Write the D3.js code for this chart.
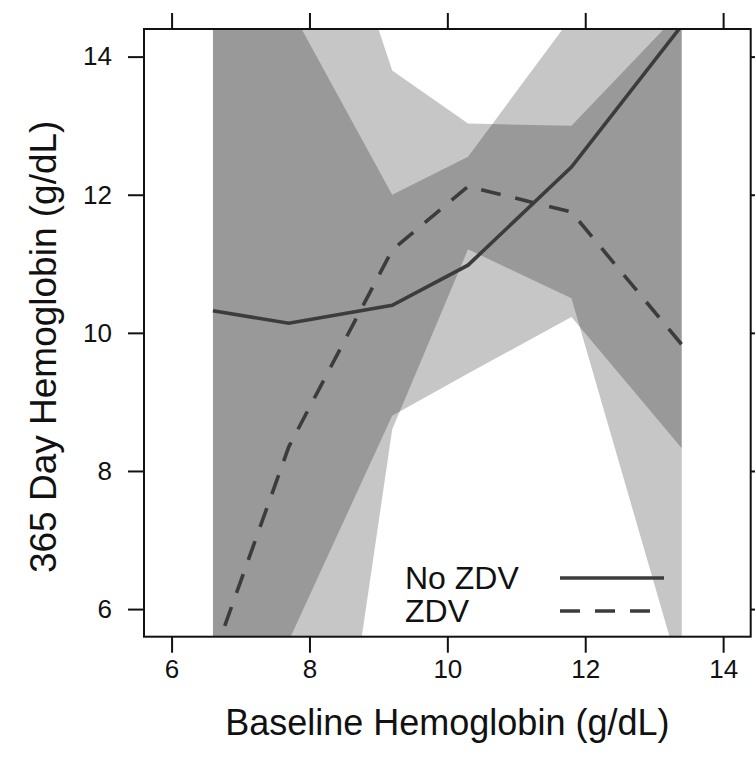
<!DOCTYPE html>
<html>
<head>
<meta charset="utf-8">
<script src="https://cdn.jsdelivr.net/npm/d3@7"></script>
<style>
  body { margin: 0; background: #fff; }
  text { font-family: "Liberation Sans", Arial, sans-serif; fill: #111; }
</style>
</head>
<body>
<div id="chart"></div>
<script>
// baseline hemoglobin groups (x) and fitted 365-day values with CI
const baseline = [6.6, 7.7, 9.2, 10.3, 11.8, 13.4];
const noZdvFit = [10.32, 10.14, 10.40, 10.98, 12.40, 14.45];
const noZdvLower = [3.3, 5.54, 8.8, 9.41, 10.23, 8.33];
const noZdvUpper = [17.3, 14.74, 12.0, 12.55, 14.57, 20.6];
const zdvFit = [5.28, 8.35, 11.2, 12.12, 11.75, 9.83];
const zdvLower = [-6.7, -1.6, 8.6, 11.21, 10.5, 4.99];
const zdvUpper = [17.3, 18.3, 13.8, 13.03, 13.0, 14.67];
const xTicks = [6, 8, 10, 12, 14];
const yTicks = [6, 8, 10, 12, 14];
const groupNames = ["No ZDV", "ZDV"];

(() => {
  const W = 755, H = 767;
  const margin = { top: 29, right: 4.3, bottom: 130.3, left: 144 };
  const width = W - margin.left - margin.right,
        height = H - margin.top - margin.bottom;

  const svg = d3.select("#chart").append("svg")
    .attr("width", W).attr("height", H);

  const g = svg.append("g")
    .attr("transform", `translate(${margin.left},${margin.top})`);

  const x = d3.scaleLinear().domain([5.6, 14.4]).range([0, width]);
  const y = d3.scaleLinear().domain([5.6, 14.4]).range([height, 0]);

  g.append("clipPath").attr("id", "plotclip")
    .append("rect").attr("width", width).attr("height", height);

  const plot = g.append("g").attr("clip-path", "url(#plotclip)");

  // build series from the arrays
  const series = [
    { name: groupNames[0], fit: noZdvFit, lo: noZdvLower, hi: noZdvUpper, dash: null },
    { name: groupNames[1], fit: zdvFit, lo: zdvLower, hi: zdvUpper, dash: "20,15" }
  ].map(s => ({
    ...s,
    pts: baseline.map((b, i) => ({ b, fit: s.fit[i], lo: s.lo[i], hi: s.hi[i] }))
  }));

  // CI bands, translucent so the overlap gets darker
  const area = d3.area()
    .x(d => x(d.b))
    .y0(d => y(d.lo))
    .y1(d => y(d.hi));

  plot.selectAll("path.band")
    .data(series)
    .join("path")
    .attr("class", "band")
    .attr("d", d => area(d.pts))
    .attr("fill", "#000")
    .attr("fill-opacity", 0.222);

  const line = d3.line().x(d => x(d.b)).y(d => y(d.fit));

  plot.selectAll("path.fit")
    .data(series)
    .join("path")
    .attr("class", "fit")
    .attr("d", d => line(d.pts))
    .attr("fill", "none")
    .attr("stroke", "#3c3c3c")
    .attr("stroke-width", 3.6)
    .attr("stroke-dasharray", d => d.dash);

  // axes (lattice style: labels left/bottom, bare ticks top/right)
  const tick = 16;
  const styleAxis = sel => {
    sel.select(".domain").remove();
    sel.selectAll(".tick line").attr("stroke", "#111").attr("stroke-width", 2);
    sel.selectAll(".tick text")
      .style("font-family", '"Liberation Sans", Arial, sans-serif')
      .style("font-size", "26px")
      .attr("fill", "#111");
  };

  g.append("g")
    .attr("transform", `translate(0,${height})`)
    .call(d3.axisBottom(x).tickValues(xTicks).tickSize(tick).tickPadding(7).tickSizeOuter(0))
    .call(styleAxis);

  g.append("g")
    .call(d3.axisTop(x).tickValues(xTicks).tickSize(tick).tickFormat("").tickSizeOuter(0))
    .call(styleAxis);

  g.append("g")
    .call(d3.axisLeft(y).tickValues(yTicks).tickSize(tick).tickPadding(16).tickSizeOuter(0))
    .call(styleAxis);

  g.append("g")
    .attr("transform", `translate(${width},0)`)
    .call(d3.axisRight(y).tickValues(yTicks).tickSize(tick).tickFormat("").tickSizeOuter(0))
    .call(styleAxis);

  // frame
  g.append("rect")
    .attr("width", width).attr("height", height)
    .attr("fill", "none").attr("stroke", "#111").attr("stroke-width", 2);

  // axis titles
  g.append("text")
    .attr("x", width / 2)
    .attr("y", height + 98)
    .attr("text-anchor", "middle")
    .style("font-size", "36px")
    .text("Baseline Hemoglobin (g/dL)");

  g.append("text")
    .attr("transform", "rotate(-90)")
    .attr("x", -height / 2 - 14)
    .attr("y", -88)
    .attr("text-anchor", "middle")
    .style("font-size", "37px")
    .text("365 Day Hemoglobin (g/dL)");

  // legend
  const legend = g.append("g").attr("transform", `translate(${405 - margin.left},${578 - margin.top})`);
  series.forEach((s, i) => {
    const row = legend.append("g").attr("transform", `translate(0,${i * 33})`);
    row.append("text")
      .attr("x", 0).attr("y", 0)
      .attr("dy", "0.35em")
      .style("font-size", "32px")
      .text(s.name);
    row.append("line")
      .attr("x1", 155).attr("x2", i === 0 ? 259 : 251)
      .attr("stroke", "#3c3c3c")
      .attr("stroke-width", 3.6)
      .attr("stroke-dasharray", s.dash);
  });
})();
</script>
</body>
</html>
